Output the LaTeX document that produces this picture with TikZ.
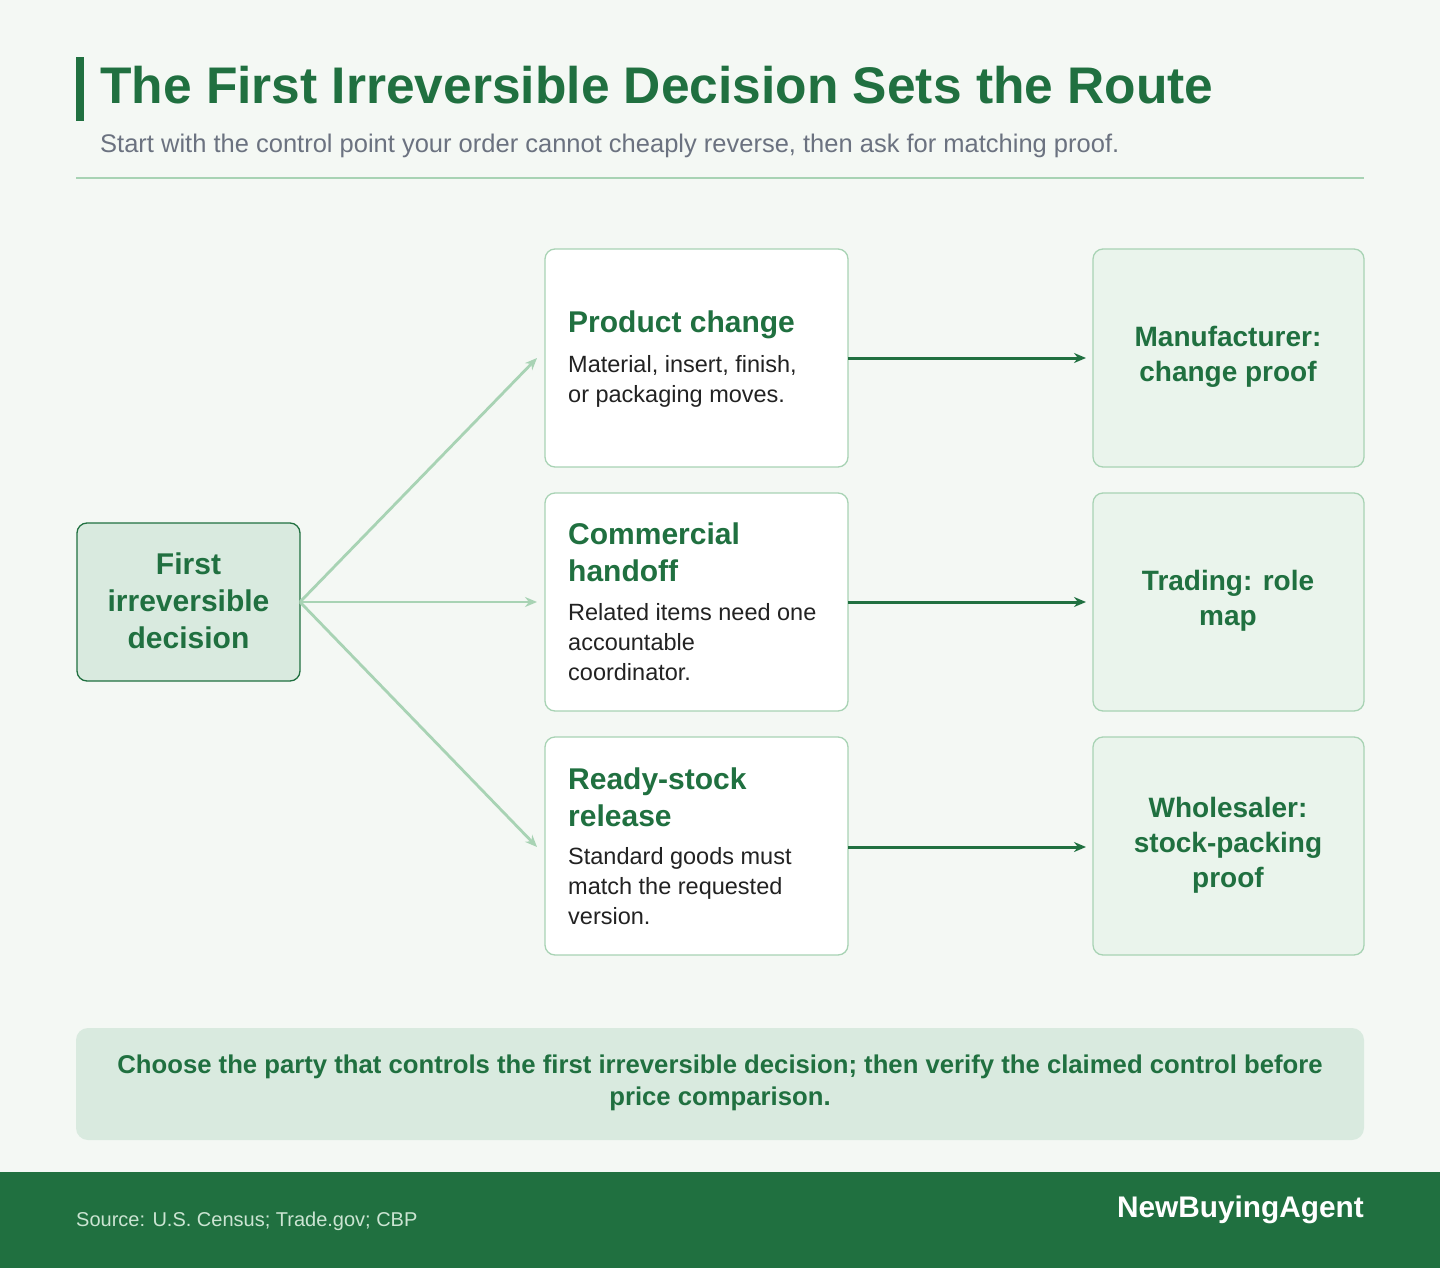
\documentclass[tikz,border=0pt]{standalone}
\usepackage{fontspec}
\setmainfont{Liberation Sans}
\usetikzlibrary{arrows.meta}
\definecolor{bgc}{HTML}{F4F8F4}
\definecolor{dkgreen}{HTML}{207040}
\definecolor{ltgreen}{HTML}{A8D3B4}
\definecolor{palefill}{HTML}{D9EADF}
\definecolor{proofill}{HTML}{EAF4EC}
\definecolor{subgray}{HTML}{6B7280}
\definecolor{bodytxt}{HTML}{222222}
\newcommand{\fs}[2]{\fontsize{#1}{#2}\selectfont}
\begin{document}
\begin{tikzpicture}[x=1pt,y=-1pt]
    % Define styles
    \tikzset{
        stepbox/.style={draw=ltgreen, fill=white, rounded corners=10pt, line width=1.3pt},
        proof/.style={draw=ltgreen, fill=proofill, rounded corners=10pt, line width=1.3pt},
        prooftext/.style={align=center, text=dkgreen, font=\fs{28}{35}\bfseries},
        stephead/.style={anchor=north west, align=left, inner sep=0pt, text=dkgreen, font=\fs{30}{37}\bfseries},
        stepbody/.style={anchor=north west, align=left, inner sep=0pt, text=bodytxt, font=\fs{23.5}{30}},
        fan/.style={draw=ltgreen, line width=2.8pt, -{Stealth[length=12pt,width=10pt]}},
        route/.style={draw=dkgreen, line width=3pt, -{Stealth[length=12pt,width=10pt]}}
    }

    % Background and bounding box
    \fill[bgc] (0,0) rectangle (1440,1268);
    \useasboundingbox (0,0) rectangle (1440,1268);

    % Title block
    \fill[dkgreen] (76,57) rectangle (84,121);
    \node[anchor=base west, inner sep=0pt, text=dkgreen, font=\fs{51.5}{56}\bfseries] (title) at (100,104)
        {The First Irreversible Decision Sets the Route};
    \node[anchor=base west, inner sep=0pt, text=subgray, font=\fs{25.5}{28}] (subtitle) at (100,153)
        {Start with the control point your order cannot cheaply reverse, then ask for matching proof.};
    \draw[ltgreen, line width=1.3pt] (76,178) -- (1364,178);

    % Decision node
    \draw[draw=dkgreen, fill=palefill, rounded corners=10pt, line width=1.3pt] (77,523) rectangle (300,681);
    \node[align=center, text=dkgreen, font=\fs{30}{37}\bfseries] (decision) at (188.5,601)
        {First\\irreversible\\decision};
    \coordinate (fanroot) at (300,602);

    % Middle steps
    \draw[stepbox] (545,249) rectangle (848,467);
    \draw[stepbox] (545,493) rectangle (848,711);
    \draw[stepbox] (545,737) rectangle (848,955);
    \node[stephead] (producthead) at (568,311) {Product change};
    \node[stepbody] (productbody) at (568,355) {Material, insert, finish,\\or packaging moves.};
    \node[stephead] (handoffhead) at (568,523) {Commercial\\handoff};
    \node[stepbody] (handoffbody) at (568,603) {Related items need one\\accountable\\coordinator.};
    \node[stephead] (releasehead) at (568,768) {Ready-stock\\release};
    \node[stepbody] (releasebody) at (568,847) {Standard goods must\\match the requested\\version.};

    % Proof boxes
    \draw[proof] (1093,249) rectangle (1364,467);
    \draw[proof] (1093,493) rectangle (1364,711);
    \draw[proof] (1093,737) rectangle (1364,955);
    \node[prooftext] (maker) at (1228,357) {Manufacturer:\\change proof};
    \node[prooftext] (trader) at (1228,601) {Trading: role\\map};
    \node[prooftext] (wholesale) at (1228,845) {Wholesaler:\\stock-packing\\proof};

    % Connectors
    \coordinate (in1) at (537,358);
    \coordinate (in2) at (537,602);
    \coordinate (in3) at (537,847);
    \draw[fan] (fanroot) -- (in1);
    \draw[fan] (fanroot) -- (in2);
    \draw[fan] (fanroot) -- (in3);
    \coordinate (out1) at (848,358);
    \coordinate (out2) at (848,602);
    \coordinate (out3) at (848,847);
    \coordinate (to1) at (1086,358);
    \coordinate (to2) at (1086,602);
    \coordinate (to3) at (1086,847);
    \draw[route] (out1) -- (to1);
    \draw[route] (out2) -- (to2);
    \draw[route] (out3) -- (to3);

    % Takeaway
    \fill[palefill, rounded corners=12pt] (76,1028) rectangle (1364,1140);
    \node[align=center, text=dkgreen, font=\fs{25.7}{32}\bfseries] (takeaway) at (720,1083)
        {Choose the party that controls the first irreversible decision; then verify the claimed control before\\price comparison.};

    % Footer
    \fill[dkgreen] (0,1172) rectangle (1440,1268);
    \node[anchor=base west, inner sep=0pt, text=ltgreen!60!white, font=\fs{20}{23}] (source) at (76,1226)
        {Source: U.S. Census; Trade.gov; CBP};
    \node[anchor=base east, inner sep=0pt, text=white, font=\fs{29.8}{32}\bfseries] (brand) at (1364,1217)
        {NewBuyingAgent};
\end{tikzpicture}
\end{document}
